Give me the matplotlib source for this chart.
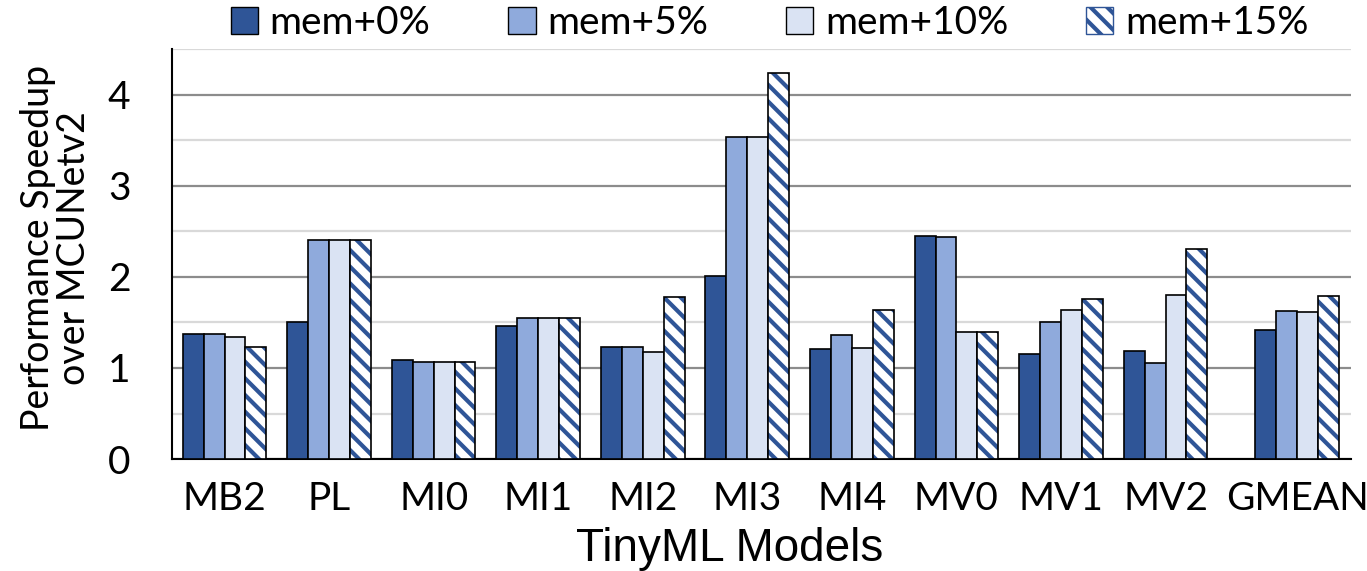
import numpy as np
import matplotlib
matplotlib.use("Agg")
import matplotlib.pyplot as plt
from matplotlib.patches import Patch

# Data
models = ["MB2", "PL", "MI0", "MI1", "MI2", "MI3", "MI4", "MV0", "MV1", "MV2", "GMEAN"]
mem0 = [1.37, 1.51, 1.09, 1.46, 1.23, 2.01, 1.21, 2.45, 1.15, 1.19, 1.42]
mem5 = [1.37, 2.41, 1.07, 1.55, 1.23, 3.54, 1.36, 2.44, 1.50, 1.06, 1.62]
mem10 = [1.34, 2.41, 1.07, 1.55, 1.18, 3.54, 1.22, 1.39, 1.64, 1.80, 1.61]
mem15 = [1.23, 2.41, 1.07, 1.55, 1.78, 4.24, 1.64, 1.39, 1.76, 2.31, 1.79]
series_labels = ["mem+0%", "mem+5%", "mem+10%", "mem+15%"]

dark = "#2F5597"
mid = "#8FAADC"
light = "#DAE3F3"

plt.rcParams["font.family"] = ["Lato", "DejaVu Sans"]
plt.rcParams["hatch.linewidth"] = 3.0

fig = plt.figure(figsize=(13.67, 5.71), dpi=100)
ax = fig.add_axes([0.126, 0.196, 0.862, 0.718])

x = np.arange(len(models), dtype=float)
x[-1] += 0.26  # GMEAN sits a little apart
w = 0.2

ax.bar(x - 1.5 * w, mem0, w, color=dark, edgecolor="black", linewidth=1.2, zorder=3)
ax.bar(x - 0.5 * w, mem5, w, color=mid, edgecolor="black", linewidth=1.2, zorder=3)
ax.bar(x + 0.5 * w, mem10, w, color=light, edgecolor="black", linewidth=1.2, zorder=3)
# hatched series: stripes first, then a black outline on top
ax.bar(x + 1.5 * w, mem15, w, color="white", edgecolor=dark, hatch="\\\\", linewidth=0, zorder=3)
ax.bar(x + 1.5 * w, mem15, w, color="none", edgecolor="black", linewidth=1.2, zorder=4)

ax.set_xlim(-0.5, 10.77)
ax.set_ylim(0, 4.5)
ax.set_yticks([0, 1, 2, 3, 4])
ax.set_yticks([0.5, 1.5, 2.5, 3.5, 4.5], minor=True)
ax.grid(axis="y", which="major", color="#8c8c8c", linewidth=1.6, zorder=0)
ax.grid(axis="y", which="minor", color="#d9d9d9", linewidth=1.6, zorder=0)
ax.set_axisbelow(True)

ax.set_xticks(x)
ax.set_xticklabels(models, fontsize=28)
ax.tick_params(axis="x", length=0, pad=16)
ax.tick_params(axis="y", which="both", length=0, pad=30, labelsize=28)

for s in ["top", "right"]:
    ax.spines[s].set_visible(False)
ax.spines["left"].set_linewidth(1.5)
ax.spines["bottom"].set_linewidth(1.5)

ax.set_ylabel("Performance Speedup\nover MCUNetv2", fontsize=27, linespacing=1.0)
ax.yaxis.set_label_coords(-0.068, 0.515)
ax.set_xlabel("TinyML Models", fontsize=33, family=["Liberation Sans"])
ax.xaxis.set_label_coords(0.473, -0.165)

handles = [
    Patch(facecolor=dark, edgecolor="black"),
    Patch(facecolor=mid, edgecolor="black"),
    Patch(facecolor=light, edgecolor="black"),
    Patch(facecolor="white", edgecolor=dark, hatch="\\\\"),
]
leg = fig.legend(handles, series_labels, loc="center", bbox_to_anchor=(0.563, 0.96),
                 ncol=4, frameon=False, fontsize=28, handlelength=0.7, handleheight=0.7,
                 handletextpad=0.3, columnspacing=2.0, borderpad=0)

fig.savefig("out.png", dpi=100)
